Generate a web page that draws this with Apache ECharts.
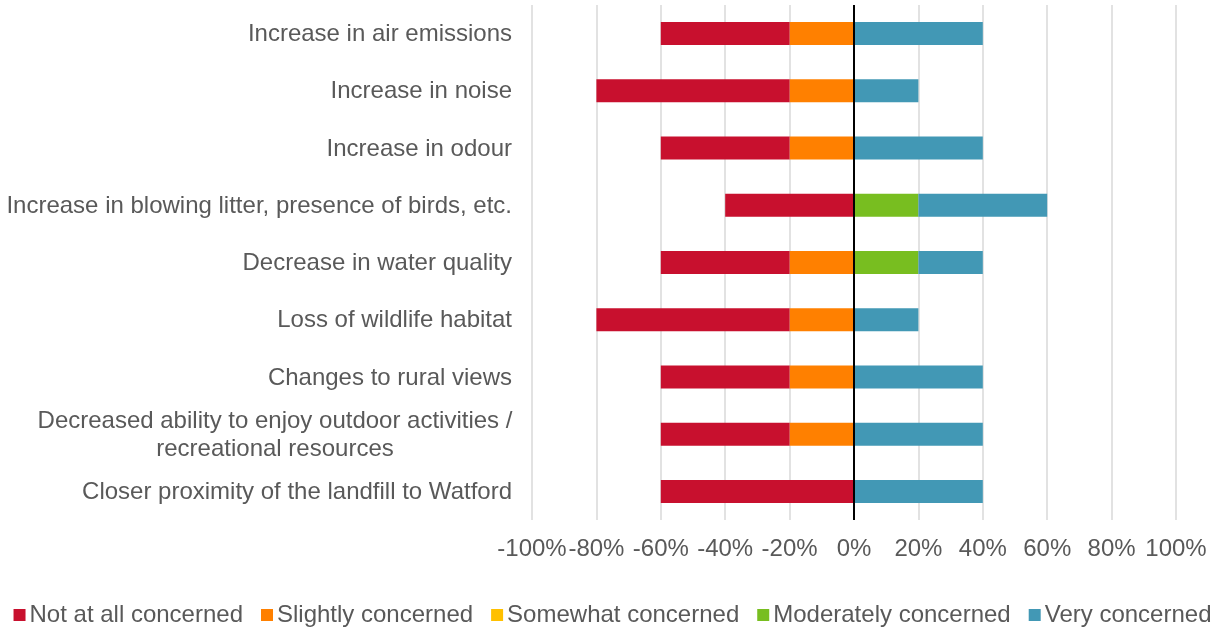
<!DOCTYPE html>
<html>
<head>
<meta charset="utf-8">
<style>
  html, body { margin: 0; padding: 0; background: #fff; }
  #chart { width: 1225px; height: 631px; }
</style>
<script src="https://cdn.jsdelivr.net/npm/echarts@6/dist/echarts.min.js"></script>
</head>
<body>
<div id="chart"></div>
<script>
// Survey concerns, listed top to bottom
const categories = [
  'Increase in air emissions',
  'Increase in noise',
  'Increase in odour',
  'Increase in blowing litter, presence of birds, etc.',
  'Decrease in water quality',
  'Loss of wildlife habitat',
  'Changes to rural views',
  'Decreased ability to enjoy outdoor activities / recreational resources',
  'Closer proximity of the landfill to Watford'
];

// Shares in percent; "not concerned" responses are plotted to the left of zero
const notAtAll   = [-40, -60, -40, -40, -40, -60, -40, -40, -60];
const slightly   = [-20, -20, -20,   0, -20, -20, -20, -20,   0];
const somewhat   = [  0,   0,   0,   0,   0,   0,   0,   0,   0];
const moderately = [  0,   0,   0,  20,  20,   0,   0,   0,   0];
const very       = [ 40,  20,  40,  40,  20,  20,  40,  40,  40];

const tickValues = [-100, -80, -60, -40, -20, 0, 20, 40, 60, 80, 100];

const colors = {
  notAtAll: '#C8102E',
  slightly: '#FF8000',
  somewhat: '#FFC000',
  moderately: '#78BE20',
  very: '#4298B5'
};

const textColor = '#595959';
const fontFamily = 'Liberation Sans, Arial, sans-serif';
const fontSize = 24;

function bar(name, data, color, extra) {
  return Object.assign({
    name: name,
    type: 'bar',
    stack: 'total',
    data: data,
    barWidth: 23,
    itemStyle: { color: color },
    emphasis: { disabled: true }
  }, extra || {});
}

const chart = echarts.init(document.getElementById('chart'), null, { renderer: 'canvas' });

chart.setOption({
  animation: false,
  textStyle: { fontFamily: fontFamily },
  grid: { left: 532, right: 49, top: 5, bottom: 111, containLabel: false },
  legend: {
    data: ['Not at all concerned', 'Slightly concerned', 'Somewhat concerned', 'Moderately concerned', 'Very concerned'],
    left: 'center',
    top: 598,
    itemWidth: 12,
    itemHeight: 12,
    itemGap: 18,
    icon: 'rect',
    textStyle: { color: textColor, fontSize: fontSize, fontFamily: fontFamily, padding: [0, 0, 0, -1] }
  },
  xAxis: {
    type: 'value',
    min: -100,
    max: 100,
    interval: 20,
    axisLine: { show: false },
    axisTick: { show: false },
    splitLine: { show: true, lineStyle: { color: '#D9D9D9', width: 1.5 } },
    axisLabel: {
      color: textColor,
      fontSize: fontSize,
      margin: 17,
      customValues: tickValues,
      formatter: v => v + '%'
    }
  },
  yAxis: {
    type: 'category',
    data: categories,
    inverse: true,
    axisLine: { show: false },
    axisTick: { show: false },
    splitLine: { show: false },
    axisLabel: {
      color: textColor,
      fontSize: fontSize,
      margin: 20,
      lineHeight: 28,
      padding: [2, 0, 0, 0],
      formatter: function (v) {
        if (v.indexOf(' / ') >= 0) {
          const parts = v.split(' / ');
          return '{c|' + parts[0] + ' /}\n{c|' + parts[1] + '}';
        }
        return v;
      },
      rich: {
        c: { width: 474, align: 'center', fontSize: fontSize, color: textColor, lineHeight: 28, fontFamily: fontFamily }
      }
    }
  },
  series: [
    bar('Slightly concerned', slightly, colors.slightly),
    bar('Not at all concerned', notAtAll, colors.notAtAll),
    bar('Somewhat concerned', somewhat, colors.somewhat),
    bar('Moderately concerned', moderately, colors.moderately),
    bar('Very concerned', very, colors.very, {
      markLine: {
        silent: true,
        symbol: 'none',
        label: { show: false },
        lineStyle: { color: '#000', width: 2, type: 'solid' },
        data: [{ xAxis: 0 }]
      }
    })
  ]
});
</script>
</body>
</html>
